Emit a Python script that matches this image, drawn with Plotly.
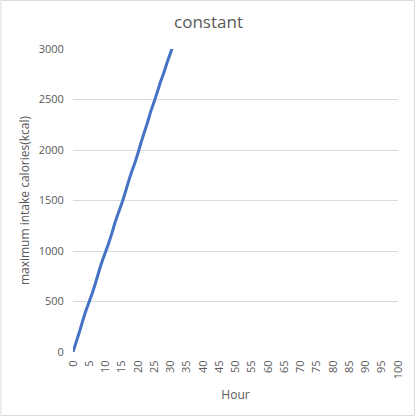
import plotly.graph_objects as go

hours = list(range(0, 32))
calories = [0, 100, 200, 310, 410, 500, 590, 690, 800, 900, 990, 1080, 1180, 1290,
            1380, 1470, 1570, 1680, 1780, 1870, 1970, 2080, 2180, 2280, 2390, 2480,
            2580, 2680, 2770, 2870, 2960, 3060]
x_ticks = list(range(0, 101, 5))
y_ticks = list(range(0, 3001, 500))

W, H = 417, 416
L, R, T, B = 73, 17, 49, 64
pw, ph = W - L - R, H - T - B

fig = go.Figure()
fig.add_trace(go.Scatter(x=hours, y=calories, mode="lines",
                         line=dict(color="#4472C4", width=3, shape="spline", smoothing=0.6),
                         cliponaxis=True, showlegend=False, hoverinfo="skip"))

font = "Open Sans, Liberation Sans, sans-serif"
fig.update_layout(
    width=W, height=H,
    margin=dict(l=L, r=R, t=T, b=B),
    paper_bgcolor="white", plot_bgcolor="white",
    title=dict(text="constant", x=0.5, xanchor="center", y=1 - 22 / H, yanchor="middle",
               font=dict(family=font, size=17, color="#595959")),
    xaxis=dict(range=[0, 100], tickmode="array", tickvals=x_ticks,
               ticktext=[str(v) for v in x_ticks], tickangle=-90,
               showgrid=False, zeroline=False, showline=False,
               ticks="outside", ticklen=3, tickcolor="rgba(0,0,0,0)",
               tickfont=dict(family=font, size=11, color="#595959"),
               title=dict(text="Hour", font=dict(family=font, size=12, color="#595959"), standoff=12)),
    yaxis=dict(range=[0, 3000], tickmode="array", tickvals=y_ticks,
               showgrid=True, gridcolor="#D9D9D9", gridwidth=1, zeroline=False, showline=False,
               ticks="outside", ticklen=6, tickcolor="rgba(0,0,0,0)",
               tickfont=dict(family=font, size=11, color="#595959"),
               title=dict(text="maximum intake calories(kcal)",
                          font=dict(family=font, size=12, color="#595959"), standoff=6)),
)
fig.add_shape(type="rect", xref="paper", yref="paper",
              x0=(0.5 - L) / pw, x1=(W - 0.5 - L) / pw,
              y0=((H - B) - (H - 0.5)) / ph, y1=((H - B) - 0.5) / ph,
              line=dict(color="#D9D9D9", width=1), fillcolor="rgba(0,0,0,0)", layer="below")

fig.write_html("out.html", config={"displayModeBar": False},
               post_script="document.body.style.margin='0';document.body.style.overflow='hidden';")
